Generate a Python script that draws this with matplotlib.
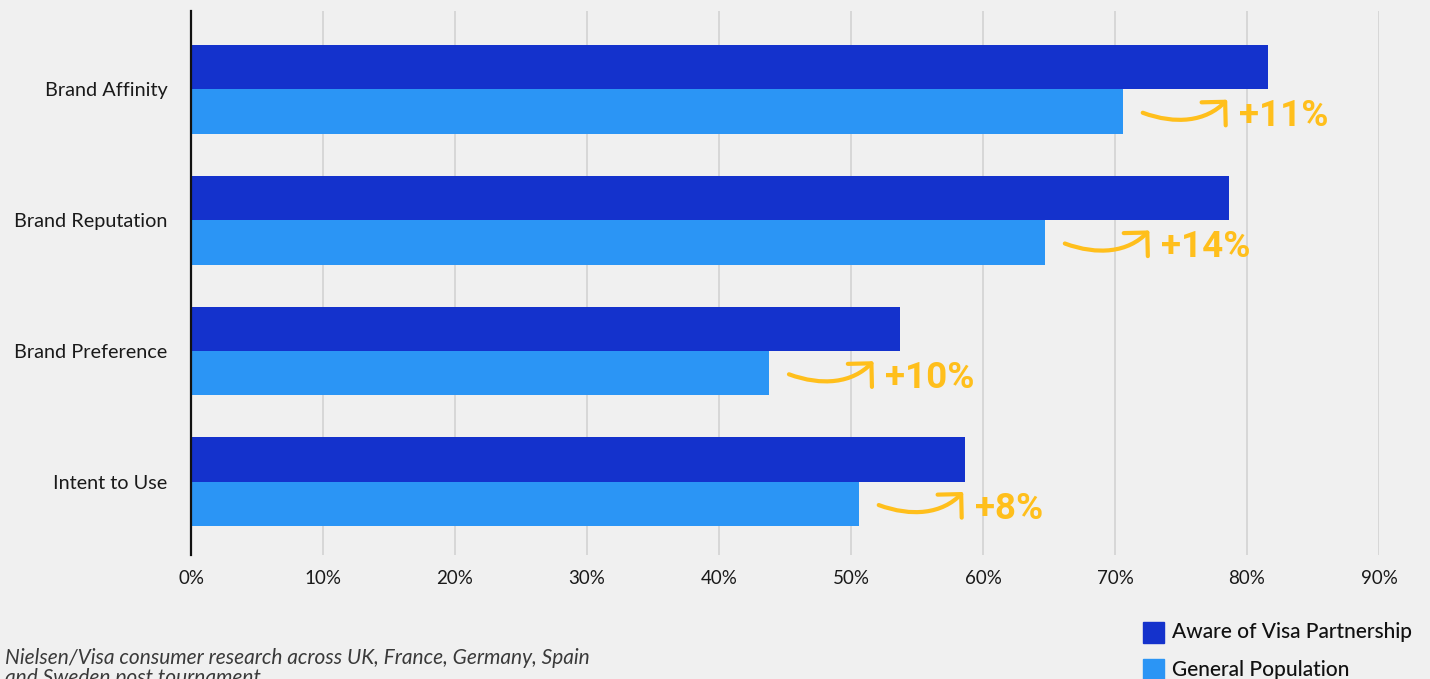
import numpy as np
import matplotlib
matplotlib.use("Agg")
import matplotlib.pyplot as plt
from matplotlib.patches import Rectangle, FancyArrowPatch
from matplotlib.path import Path

# survey measures, top to bottom
categories = ["Brand Affinity", "Brand Reputation", "Brand Preference", "Intent to Use"]
aware_pct = [81.6, 78.6, 53.7, 58.6]      # aware of the partnership
general_pct = [70.6, 64.7, 43.8, 50.6]    # general population
series_names = ["Aware of Visa Partnership", "General Population"]
x_ticks = [0, 10, 20, 30, 40, 50, 60, 70, 80, 90]
source_note = ("Nielsen/Visa consumer research across UK, France, Germany, Spain\n"
               "and Sweden post tournament")

BG = "#f0f0f0"
DARK_BLUE = "#1432cc"
LIGHT_BLUE = "#2b95f5"
YELLOW = "#ffbf1c"
FONT = "Lato"

plt.rcParams["font.family"] = [FONT, "DejaVu Sans"]

fig = plt.figure(figsize=(14.3, 6.79), dpi=100, facecolor=BG)
ax = fig.add_axes([191 / 1430, 124 / 679, 1188 / 1430, 544 / 679])
ax.set_facecolor(BG)

y = np.arange(len(categories))
h = 0.34
ax.barh(y - h / 2, aware_pct, height=h, color=DARK_BLUE, zorder=2)
ax.barh(y + h / 2, general_pct, height=h, color=LIGHT_BLUE, zorder=2)

ax.set_xlim(0, 90)
ax.set_ylim(3.56, -0.60)
ax.set_xticks(x_ticks)
ax.set_xticklabels([f"{t}%" for t in x_ticks], fontsize=13.5, color="#1a1a1a")
ax.set_yticks(y)
ax.set_yticklabels(categories, fontsize=14.3, color="#1a1a1a")
ax.tick_params(axis="x", length=0, pad=11)
ax.tick_params(axis="y", length=0, pad=17)

ax.grid(axis="x", color="#d3d3d3", linewidth=1.2, zorder=0)
ax.set_axisbelow(True)
for side in ("top", "right", "bottom"):
    ax.spines[side].set_visible(False)
ax.spines["left"].set_color("#111111")
ax.spines["left"].set_linewidth(1.6)
ax.spines["left"].set_zorder(3)

# swoosh shape as offsets from the end of the general bar (x in %, y in bar units)
swoosh_dx = [1.5, 4.0, 6.3, 7.9]
swoosh_dy = [0.008, 0.10, 0.077, -0.092]
codes = [Path.MOVETO, Path.CURVE4, Path.CURVE4, Path.CURVE4]

for i, (a, g) in enumerate(zip(aware_pct, general_pct)):
    yc = i + h / 2
    verts = [(g + dx, yc + dy) for dx, dy in zip(swoosh_dx, swoosh_dy)]
    ax.add_patch(FancyArrowPatch(path=Path(verts, codes),
                                 arrowstyle="->,head_length=1.0,head_width=1.0",
                                 mutation_scale=12, color=YELLOW, lw=3.0,
                                 capstyle="round", joinstyle="round", zorder=4))
    ax.text(g + 8.8, yc + 0.035, f"+{round(a - g):.0f}%", color=YELLOW,
            fontsize=26.5, fontweight="bold", family=["Roboto", "DejaVu Sans"],
            va="center", ha="left", zorder=4)

# legend
for k, (name, col) in enumerate(zip(series_names, [DARK_BLUE, LIGHT_BLUE])):
    top = 622 + 37 * k
    fig.patches.append(Rectangle((1143 / 1430, (679 - top - 21) / 679), 21 / 1430, 21 / 679,
                                 transform=fig.transFigure, color=col))
    fig.text(1172 / 1430, (679 - top - 10.5) / 679, name, fontsize=15,
             color="#111111", va="center", ha="left", fontweight="medium")

fig.text(5 / 1430, (679 - 648) / 679, source_note, fontsize=15, style="italic",
         color="#3a3a3a", va="top", ha="left", linespacing=1.0)

fig.savefig("out.png", dpi=100, facecolor=BG)
